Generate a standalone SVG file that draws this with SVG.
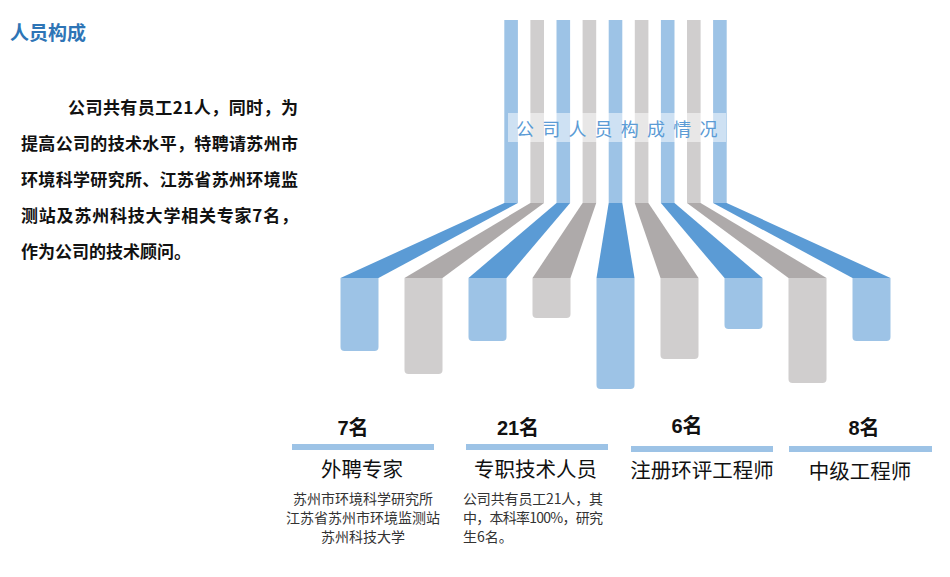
<svg xmlns="http://www.w3.org/2000/svg" width="950" height="577" viewBox="0 0 950 577">
<style>
.lb{fill:#9dc3e6}.db{fill:#5b9bd5}.lg{fill:#d0cece}.dg{fill:#aeaaaa}
.cjk{font-family:"Noto Sans CJK SC","Liberation Sans",sans-serif}
.para{font-family:"Noto Sans CJK SC",sans-serif;font-size:17px;font-weight:bold;fill:#111}
.num{font-family:"Liberation Sans","Noto Sans CJK SC",sans-serif;font-size:20px;font-weight:bold;fill:#111;text-anchor:middle}
.cat{font-family:"Noto Sans CJK SC",sans-serif;font-size:20.5px;fill:#111;text-anchor:middle}
.sm{font-family:"Noto Sans CJK SC",sans-serif;font-size:14px;fill:#333}
</style>
<rect width="950" height="577" fill="#fff"/>
<g id="heading">
<text x="10" y="40" font-family="Noto Sans CJK SC,sans-serif" font-size="19" font-weight="bold" fill="#2e75b6">人员构成</text>
</g>
<g id="intro" class="para">
<text x="68" y="114" textLength="230" lengthAdjust="spacing">公司共有员工21人，同时，为</text>
<text x="21" y="150" textLength="277" lengthAdjust="spacing">提高公司的技术水平，特聘请苏州市</text>
<text x="21" y="186" textLength="277" lengthAdjust="spacing">环境科学研究所、江苏省苏州环境监</text>
<text x="21" y="222" textLength="277" lengthAdjust="spacing">测站及苏州科技大学相关专家7名，</text>
<text x="21" y="258">作为公司的技术顾问。</text>
</g>
<g id="chart">
<g id="bar1"><rect class="lb" x="504.3" y="20" width="13.6" height="183"/><polygon class="db" points="504.3,203 517.9,203 378.5,278 340.5,278"/><path class="lb" d="M340.5,278H378.5V347Q378.5,351 374.5,351H344.5Q340.5,351 340.5,347Z"/></g>
<g id="bar2"><rect class="lg" x="530.4" y="20" width="13.6" height="183"/><polygon class="dg" points="530.4,203 544,203 442.5,278 404.5,278"/><path class="lg" d="M404.5,278H442.5V370Q442.5,374 438.5,374H408.5Q404.5,374 404.5,370Z"/></g>
<g id="bar3"><rect class="lb" x="556.5" y="20" width="13.6" height="183"/><polygon class="db" points="556.5,203 570.1,203 506.5,278 468.5,278"/><path class="lb" d="M468.5,278H506.5V337Q506.5,341 502.5,341H472.5Q468.5,341 468.5,337Z"/></g>
<g id="bar4"><rect class="lg" x="582.6" y="20" width="13.6" height="183"/><polygon class="dg" points="582.6,203 596.2,203 570.5,278 532.5,278"/><path class="lg" d="M532.5,278H570.5V314Q570.5,318 566.5,318H536.5Q532.5,318 532.5,314Z"/></g>
<g id="bar5"><rect class="lb" x="608.7" y="20" width="13.6" height="183"/><polygon class="db" points="608.7,203 622.3,203 634.5,278 596.5,278"/><path class="lb" d="M596.5,278H634.5V385Q634.5,389 630.5,389H600.5Q596.5,389 596.5,385Z"/></g>
<g id="bar6"><rect class="lg" x="634.8" y="20" width="13.6" height="183"/><polygon class="dg" points="634.8,203 648.4,203 698.5,278 660.5,278"/><path class="lg" d="M660.5,278H698.5V355Q698.5,359 694.5,359H664.5Q660.5,359 660.5,355Z"/></g>
<g id="bar7"><rect class="lb" x="660.9" y="20" width="13.6" height="183"/><polygon class="db" points="660.9,203 674.5,203 762.5,278 724.5,278"/><path class="lb" d="M724.5,278H762.5V325Q762.5,329 758.5,329H728.5Q724.5,329 724.5,325Z"/></g>
<g id="bar8"><rect class="lg" x="687" y="20" width="13.6" height="183"/><polygon class="dg" points="687,203 700.6,203 826.5,278 788.5,278"/><path class="lg" d="M788.5,278H826.5V379Q826.5,383 822.5,383H792.5Q788.5,383 788.5,379Z"/></g>
<g id="bar9"><rect class="lb" x="713.1" y="20" width="13.6" height="183"/><polygon class="db" points="713.1,203 726.7,203 890.5,278 852.5,278"/><path class="lb" d="M852.5,278H890.5V337Q890.5,341 886.5,341H856.5Q852.5,341 852.5,337Z"/></g>
<g id="chart-title">
<rect x="508" y="113" width="218" height="29" fill="#fff" opacity="0.5"/>
<text x="516" y="136" font-family="Noto Sans CJK SC,sans-serif" font-size="18" letter-spacing="8.2" fill="#5b9bd5">公司人员构成情况</text>
</g>
</g>
<g id="stat1">
<text class="num" x="353" y="435">7名</text>
<rect class="lb" x="292" y="444" width="142" height="6"/>
<text class="cat" x="362" y="477">外聘专家</text>
<g class="sm" text-anchor="middle">
<text x="363" y="504">苏州市环境科学研究所</text>
<text x="363" y="523">江苏省苏州市环境监测站</text>
<text x="363" y="542">苏州科技大学</text>
</g>
</g>
<g id="stat2">
<text class="num" x="518" y="435">21名</text>
<rect class="lb" x="466" y="444" width="142" height="6"/>
<text class="cat" x="535.5" y="477">专职技术人员</text>
<g class="sm">
<text x="463" y="504" textLength="140" lengthAdjust="spacing">公司共有员工21人，其</text>
<text x="463" y="523" textLength="140" lengthAdjust="spacing">中，本科率100%，研究</text>
<text x="463" y="542">生6名。</text>
</g>
</g>
<g id="stat3">
<text class="num" x="687" y="433">6名</text>
<rect class="lb" x="631" y="446" width="142" height="6"/>
<text class="cat" x="702" y="478">注册环评工程师</text>
</g>
<g id="stat4">
<text class="num" x="864" y="435">8名</text>
<rect class="lb" x="789" y="446" width="143" height="6"/>
<text class="cat" x="860" y="479">中级工程师</text>
</g>
</svg>
